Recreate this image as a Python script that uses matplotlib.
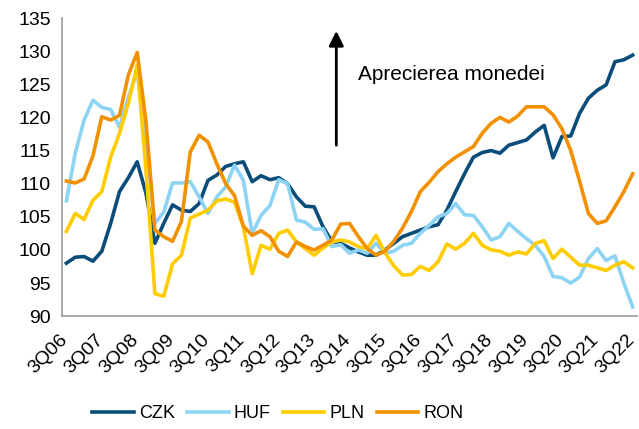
import matplotlib
matplotlib.use("Agg")
import matplotlib.pyplot as plt
import matplotlib.transforms as mtrans

plt.rcParams['font.family'] = ['Liberation Sans', 'DejaVu Sans']

# trimestre 3Q06 .. 3Q22
quarters = []
for y in range(6, 23):
    for q in [3, 4, 1, 2]:
        yy = y if q >= 3 else y + 1
        quarters.append('%dQ%02d' % (q, yy))
quarters = quarters[:65]

czk = [98.0, 98.9, 99.0, 98.3, 99.8, 104.0, 108.8, 110.9, 113.3, 108.5,
       101.0, 104.0, 106.8, 106.0, 105.8, 107.0, 110.5, 111.3, 112.6, 113.0,
       113.3, 110.3, 111.2, 110.6, 110.9, 110.0, 108.0, 106.6, 106.5, 103.5,
       101.3, 101.0, 100.3, 99.7, 99.2, 99.2, 100.0, 101.0, 102.0, 102.5,
       103.0, 103.5, 103.8, 106.0, 108.8, 111.5, 114.0, 114.7, 115.0, 114.6,
       115.8, 116.2, 116.6, 117.8, 118.8, 113.9, 117.1, 117.2, 120.6, 122.9,
       124.1, 124.9, 128.4, 128.7, 129.4]
huf = [107.4, 114.6, 119.6, 122.6, 121.5, 121.2, 118.5, 123.0, 127.0, 116.0,
       104.0, 105.7, 110.1, 110.1, 110.3, 108.0, 105.5, 108.0, 109.5, 112.8,
       110.5, 102.5, 105.2, 106.7, 110.6, 110.0, 104.5, 104.2, 103.1, 103.2,
       100.5, 100.8, 99.5, 100.0, 99.5, 101.0, 99.5, 99.8, 100.7, 101.0,
       102.5, 103.7, 105.0, 105.5, 107.0, 105.3, 105.2, 103.5, 101.5, 102.0,
       104.0, 102.8, 101.7, 100.7, 99.0, 96.0, 95.8, 95.0, 95.9, 98.7,
       100.2, 98.4, 99.1, 95.0, 91.4]
pln = [102.8, 105.5, 104.6, 107.5, 108.8, 114.0, 117.6, 122.1, 127.9, 112.0,
       93.4, 93.0, 97.9, 99.2, 104.8, 105.4, 106.0, 107.4, 107.7, 107.2,
       103.5, 96.4, 100.7, 100.1, 102.5, 103.0, 101.2, 100.2, 99.2, 100.3,
       101.2, 101.5, 101.2, 100.5, 100.2, 102.2, 99.6, 97.6, 96.2, 96.3,
       97.5, 96.9, 98.2, 100.9, 100.1, 101.0, 102.5, 100.7, 100.0, 99.8,
       99.2, 99.7, 99.4, 101.0, 101.4, 98.7, 100.1, 98.9, 97.7, 97.7,
       97.3, 96.9, 97.7, 98.2, 97.3]
ron = [110.4, 110.1, 110.7, 114.2, 120.1, 119.6, 120.3, 126.4, 129.8, 119.3,
       103.0, 102.0, 101.3, 104.3, 114.8, 117.3, 116.3, 113.0, 110.0, 108.2,
       103.6, 102.2, 102.9, 102.0, 99.8, 99.0, 101.2, 100.5, 100.0, 100.7,
       101.5, 103.9, 104.0, 102.0, 100.2, 99.2, 99.8, 101.3, 103.3, 105.8,
       108.8, 110.2, 111.8, 113.0, 114.0, 114.8, 115.6, 117.6, 119.1, 120.0,
       119.3, 120.2, 121.6, 121.6, 121.6, 120.4, 118.3, 115.0, 110.4, 105.5,
       104.0, 104.4, 106.5, 108.8, 111.5]

x = list(range(len(quarters)))

fig = plt.figure(figsize=(6.39, 4.29), dpi=100)
ax = fig.add_axes([0.097, 0.263, 0.9, 0.695])

ax.plot(x, czk, color='#0a4d7a', lw=2.6, label='CZK')
ax.plot(x, huf, color='#8dd3f4', lw=2.6, label='HUF')
ax.plot(x, pln, color='#ffcc00', lw=2.6, label='PLN')
ax.plot(x, ron, color='#f29100', lw=2.6, label='RON')

ax.set_xlim(-0.5, len(x) - 0.5)
ax.set_ylim(90, 135)
ax.set_yticks(range(90, 136, 5))
ax.set_xticks(x[::4])
ax.set_xticklabels(quarters[::4], rotation=45, ha='right', rotation_mode='anchor')
ax.tick_params(axis='both', length=0, labelsize=14, colors='black')
ax.tick_params(axis='x', pad=11)
ax.tick_params(axis='y', pad=8)
shift = mtrans.ScaledTranslation(-0.07, 0, fig.dpi_scale_trans)
for lab in ax.get_xticklabels():
    lab.set_transform(lab.get_transform() + shift)

for s in ['top', 'right']:
    ax.spines[s].set_visible(False)
for s in ['left', 'bottom']:
    ax.spines[s].set_color('#999999')
    ax.spines[s].set_linewidth(1.2)

ax.annotate('', xy=(0.477, 0.966), xytext=(0.477, 0.564), xycoords='axes fraction',
            arrowprops=dict(arrowstyle='-|>', color='black', lw=2, mutation_scale=22))
ax.text(0.515, 0.809, 'Aprecierea monedei', transform=ax.transAxes,
        fontsize=15, va='center', ha='left')

fig.legend(loc='center', bbox_to_anchor=(0.435, 0.035), ncol=4, frameon=False,
           fontsize=13, handlelength=2.3, handletextpad=0.3, columnspacing=0.65)

fig.savefig('out.png', dpi=100)
